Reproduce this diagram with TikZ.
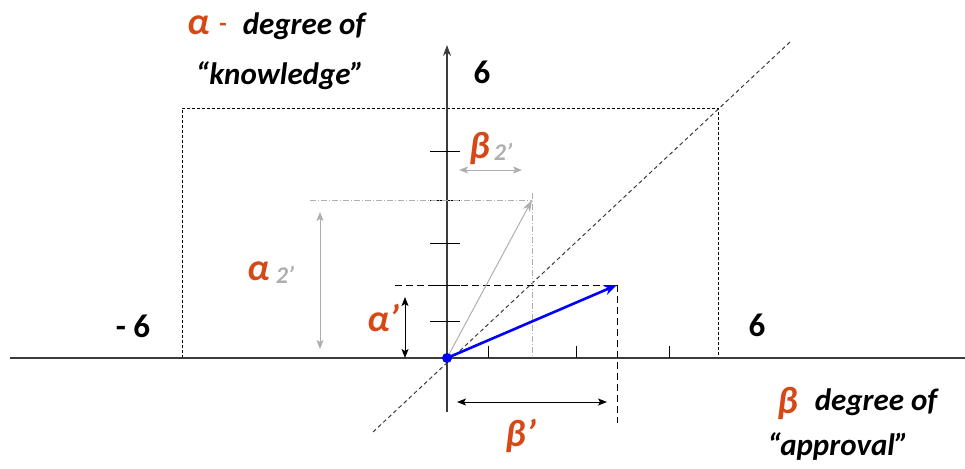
\documentclass[tikz,border=0pt]{standalone}
\usepackage{fontspec}
\setmainfont{Carlito}
\usetikzlibrary{arrows.meta}
\definecolor{redor}{RGB}{214,72,22}
\definecolor{lgray}{RGB}{175,175,175}
\definecolor{axgray}{RGB}{60,60,60}
\tikzset{
  axis/.style={axgray, line width=1.1pt},
  tick/.style={black, line width=0.9pt},
  boxline/.style={black, dashed, dash pattern=on 3pt off 2pt, line width=0.8pt},
  diag/.style={axgray, dash pattern=on 4pt off 3pt, line width=1pt},
  graydd/.style={lgray, dash pattern=on 6pt off 2pt on 1pt off 2pt, line width=1pt},
  blkdash/.style={black, dash pattern=on 7pt off 4pt, line width=1pt},
  dimblack/.style={black, line width=1pt, {Stealth[length=9pt,width=7pt,inset=2pt]}-{Stealth[length=9pt,width=7pt,inset=2pt]}},
  dimgray/.style={lgray, line width=1pt, {Stealth[length=9pt,width=7pt,inset=2pt]}-{Stealth[length=9pt,width=7pt,inset=2pt]}},
  lbl/.style={font=\fontsize{31}{34}\selectfont\bfseries\itshape, inner sep=0pt},
  num/.style={font=\fontsize{33}{36}\selectfont\bfseries, inner sep=0pt},
  greek/.style={font=\fontsize{38}{40}\selectfont\bfseries\itshape, text=redor, inner sep=0pt},
  sub/.style={font=\fontsize{24}{26}\selectfont\bfseries\itshape, text=lgray, inner sep=0pt},
}
\begin{document}
\begin{tikzpicture}[x=1pt,y=-1pt]
\useasboundingbox (0,0) rectangle (965,468);
% coordinates
\coordinate (O) at (447,358);
\coordinate (xl) at (10,358);
\coordinate (xr) at (965,358);
\coordinate (yb) at (447,412);
\coordinate (yt) at (447,45);
\coordinate (bl) at (182,358);
\coordinate (tl) at (182,108);
\coordinate (tr) at (718,108);
\coordinate (br) at (718,358);
\coordinate (d1) at (373,432);
\coordinate (d2) at (790,42);
\coordinate (P) at (617,285);
\coordinate (Q) at (532,200);
% box
\draw[boxline] (bl) -- (tl) -- (tr) -- (br);
% diagonal
\draw[diag] (d1) -- (d2);
% axes
\draw[axis] (xl) -- (xr);
\draw[axis, -{Stealth[length=11pt,width=8pt]}] (yb) -- (yt);
% ticks
\foreach \y/\n in {151/a,200/b,243/c,285/d,321/e}
  \draw[tick] (430,\y) coordinate (ty\n) -- (460,\y);
\foreach \x/\n in {488/a,576/c,669/e}
  \draw[tick] (\x,346) coordinate (tx\n) -- (\x,358);
% gray projections
\coordinate (g1) at (310,200);
\coordinate (g2) at (532,193);
\coordinate (g3) at (532,358);
\draw[graydd] (g1) -- (Q);
\draw[graydd] (g2) -- (g3);
% black dashed projections
\coordinate (k1) at (395,285);
\coordinate (k2) at (617,423);
\draw[blkdash] (k1) -- (P);
\draw[blkdash] (P) -- (k2);
% gray vector
\draw[lgray, line width=1pt, -{Stealth[length=12pt,width=8pt]}] (O) -- (Q);
% blue vector
\draw[blue, line width=2.6pt, -{Stealth[length=13pt,width=10pt]}] (O) -- (P);
\fill[blue] (O) circle (5pt);
% dimension arrows
\coordinate (ga1) at (320,212); \coordinate (ga2) at (320,349);
\draw[dimgray] (ga1) -- (ga2);
\coordinate (ka1) at (405,297); \coordinate (ka2) at (405,358);
\draw[dimblack] (ka1) -- (ka2);
\coordinate (gb1) at (459,170); \coordinate (gb2) at (522,170);
\draw[dimgray] (gb1) -- (gb2);
\coordinate (kb1) at (457,402); \coordinate (kb2) at (607,402);
\draw[dimblack] (kb1) -- (kb2);
% labels
\node[greek] (alpha) at (199,25) {α};
\node[font=\fontsize{24}{26}\selectfont\bfseries, text=redor, inner sep=0pt] (dash) at (223,27) {-};
\node[lbl] (dk) at (304,26) {degree of};
\node[lbl] (kn) at (280,76) {“knowledge”};
\node[num] (six1) at (482,72) {6};
\node[num] (msix) at (133,326) {- 6};
\node[num] (six2) at (757,325) {6};
\node[greek] (beta) at (788,403) {β};
\node[lbl] (da) at (876,402) {degree of};
\node[lbl] (ap) at (838,447) {“approval”};
\node[greek] (ap1) at (383,318) {α’};
\node[greek] (a2) at (259,271) {α};
\node[sub] (a2s) at (285,275) {2’};
\node[greek] (b2) at (480,148) {β};
\node[sub] (b2s) at (503,152) {2’};
\node[greek] (bp) at (521,436) {β’};
\end{tikzpicture}
\end{document}
